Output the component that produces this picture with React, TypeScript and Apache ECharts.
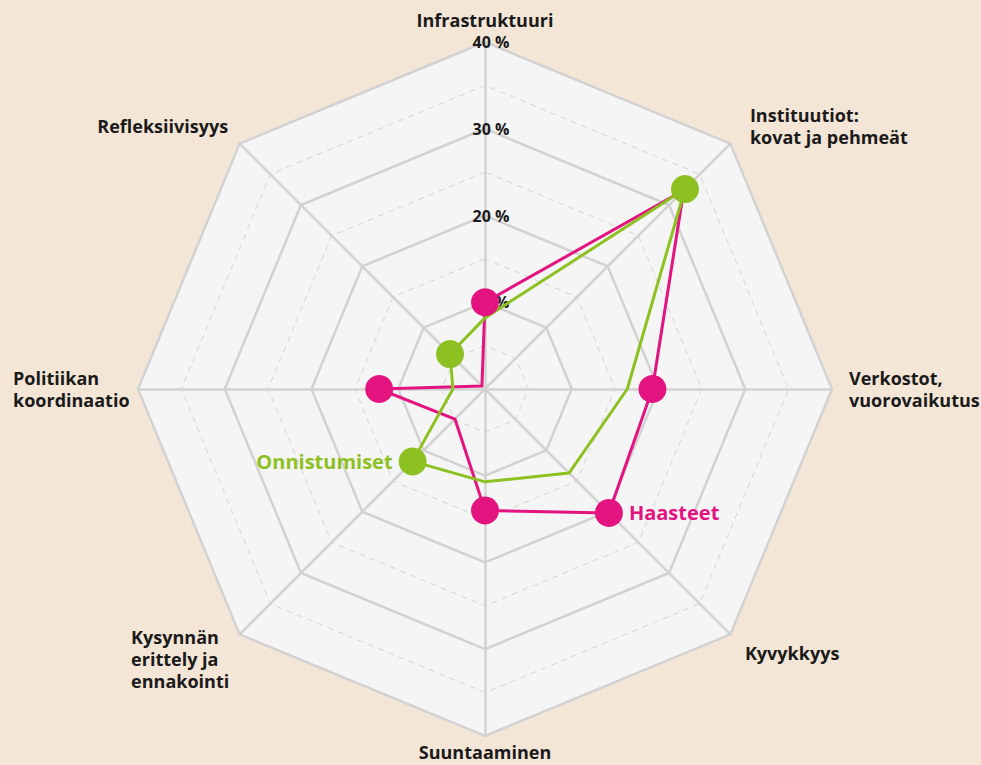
import React, { useEffect, useRef } from "react";
import * as echarts from "echarts";

// Indicators, counter-clockwise from the top
const INDICATORS = [
  "Infrastruktuuri",
  "Refleksiivisyys",
  "Politiikan\nkoordinaatio",
  "Kysynnän\nerittely ja\nennakointi",
  "Suuntaaminen",
  "Kyvykkyys",
  "Verkostot,\nvuorovaikutus",
  "Instituutiot:\nkovat ja pehmeät",
];
const HAASTEET = [10, 0.5, 12.2, 4.9, 14, 20.2, 19.3, 32.4];
const ONNISTUMISET = [8.2, 5.7, 3.7, 11.8, 10.7, 13.7, 16.4, 32.6];
const HAASTEET_MARKED = [1, 0, 1, 0, 1, 1, 1, 0];
const ONNISTUMISET_MARKED = [0, 1, 0, 1, 0, 0, 0, 1];
const HAASTEET_LABEL_AT = 5; // Kyvykkyys
const ONNISTUMISET_LABEL_AT = 3; // Kysynnän
const AXIS_MAX = 40;
const RING_STEP = 10;

const PINK = "#e3137f";
const GREEN = "#8dc021";
const FONT = "Open Sans";
const NAME_SIZE = 18;
const NAME_LH = 22;
// per-name nudges: [horizontal padding away from chart, vertical shift (+down)]
const NAME_NUDGE = [
  [0, -6],
  [8, -14],
  [3, 0],
  [6, 21],
  [0, 0],
  [11, 15],
  [12, 0],
  [16, -14],
];
const LEFT_SIDE = [1, 2, 3];

export default function App() {
  const ref = useRef<HTMLDivElement>(null);
  useEffect(() => {
    document.body.style.margin = "0";
    const chart = echarts.init(ref.current!, null, { renderer: "svg" });
    const center = [485, 389];
    const radius = 347;

    const cv = document.createElement("canvas").getContext("2d")!;
    cv.font = `bold ${NAME_SIZE}px "${FONT}"`;
    const maxW = (name: string) =>
      Math.ceil(Math.max(...name.split("\n").map((l) => cv.measureText(l).width)));

    const base = { fontWeight: "bold", fontSize: NAME_SIZE, fontFamily: FONT, color: "#1a1a1a", lineHeight: NAME_LH };
    const rich: any = {};
    const fmtMap: Record<string, string> = {};
    INDICATORS.forEach((n, i) => {
      const lines = n.split("\n");
      const [hp, dy] = NAME_NUDGE[i];
      const left = LEFT_SIDE.includes(i);
      const key = `n${i}`;
      rich[key] = { ...base, padding: [0, left ? hp : 0, 0, left ? 0 : hp], align: "left" };
      if (left && lines.length > 1) rich[key].width = maxW(n);
      const out = lines.map((l) => `{${key}|${l}}`);
      const edge = i === 0 || i === 4;
      const sp = edge ? Math.abs(dy) : 2 * Math.abs(dy);
      if (dy !== 0) {
        rich[`s${i}`] = { fontSize: 1, lineHeight: sp, height: sp };
        if (dy < 0) out.push(`{s${i}| }`);
        else out.unshift(`{s${i}| }`);
      }
      fmtMap[n] = out.join("\n");
    });

    const markerData = (vals: number[], marked: number[], labelAt: number, text: string, pos: string, color: string) =>
      vals
        .map((v, i) =>
          marked[i]
            ? {
                value: [v, i],
                label:
                  i === labelAt
                    ? { show: true, position: pos, distance: 6, formatter: text, color, fontWeight: "bold", fontSize: 20, fontFamily: FONT }
                    : { show: false },
              }
            : null
        )
        .filter(Boolean);

    const option: any = {
      animation: false,
      backgroundColor: "#f4e6d7",
      radar: [
        {
          center,
          radius,
          shape: "polygon",
          splitNumber: 8,
          indicator: INDICATORS.map(() => ({ name: "", min: 0, max: AXIS_MAX })),
          axisName: { show: false },
          axisLine: { show: false },
          splitLine: { lineStyle: { type: [6, 5], color: "#d4d4d4", width: 1 } },
          splitArea: { show: true, areaStyle: { color: ["#f5f5f5"] } },
        },
        {
          center,
          radius,
          shape: "polygon",
          splitNumber: AXIS_MAX / RING_STEP,
          indicator: INDICATORS.map((n) => ({ name: n, min: 0, max: AXIS_MAX })),
          nameGap: 5,
          axisName: {
            ...base,
            formatter: (name: string) => fmtMap[name] ?? name,
            rich,
          },
          axisLine: { lineStyle: { color: "#d2d2d2", width: 2.5 } },
          splitLine: { lineStyle: { color: "#d2d2d2", width: 2.5 } },
          splitArea: { show: false },
        },
      ],
      polar: { center, radius },
      angleAxis: {
        type: "category",
        data: INDICATORS,
        startAngle: 90,
        clockwise: false,
        boundaryGap: false,
        show: false,
      },
      radiusAxis: {
        min: 0,
        max: AXIS_MAX,
        interval: RING_STEP,
        axisLine: { show: false },
        axisTick: { show: false },
        splitLine: { show: false },
        axisLabel: {
          show: true,
          margin: -6,
          align: "center",
          verticalAlign: "middle",
          fontWeight: "bold",
          fontSize: 16,
          fontFamily: FONT,
          color: "#1a1a1a",
          formatter: (v: number) => (v === 0 ? "" : `${v} %`),
        },
      },
      series: [
        {
          type: "radar",
          radarIndex: 1,
          symbol: "none",
          lineStyle: { color: PINK, width: 3 },
          data: [{ value: HAASTEET, name: "Haasteet" }],
          z: 3,
        },
        {
          type: "radar",
          radarIndex: 1,
          symbol: "none",
          lineStyle: { color: GREEN, width: 3 },
          data: [{ value: ONNISTUMISET, name: "Onnistumiset" }],
          z: 3,
        },
        {
          type: "scatter",
          coordinateSystem: "polar",
          symbolSize: 28,
          itemStyle: { color: PINK, opacity: 1 },
          data: markerData(HAASTEET, HAASTEET_MARKED, HAASTEET_LABEL_AT, "Haasteet", "right", PINK),
          z: 4,
        },
        {
          type: "scatter",
          coordinateSystem: "polar",
          symbolSize: 28,
          itemStyle: { color: GREEN, opacity: 1 },
          data: markerData(ONNISTUMISET, ONNISTUMISET_MARKED, ONNISTUMISET_LABEL_AT, "Onnistumiset", "left", GREEN),
          z: 4,
        },
      ],
    };
    chart.setOption(option);
    return () => chart.dispose();
  }, []);
  return <div ref={ref} style={{ width: 981, height: 765 }} />;
}
